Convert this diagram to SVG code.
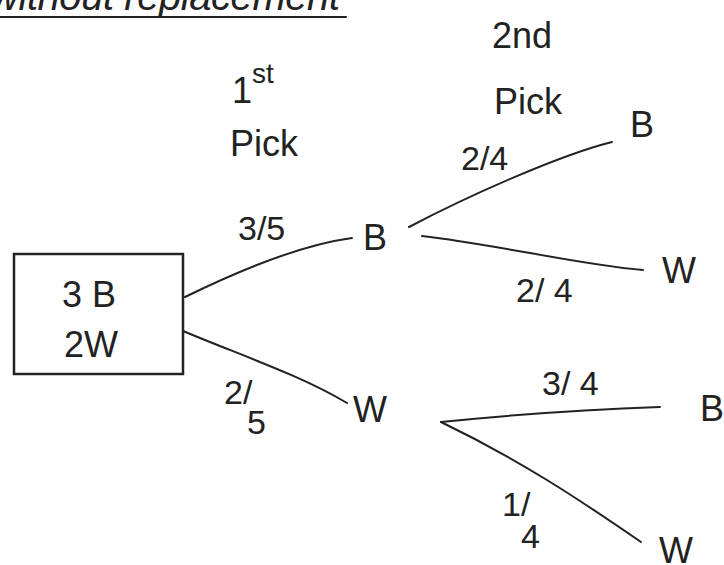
<svg xmlns="http://www.w3.org/2000/svg" width="724" height="565" viewBox="0 0 724 565">
<style>
  .t { font-family: "Liberation Sans", Arial, sans-serif; fill: #222; font-weight: normal; }
  .mid { font-size: 36px; }
  .frac { font-size: 34px; }
  .edge { fill: none; stroke: #222; stroke-width: 2; stroke-linecap: round; }
  .box { fill: #fff; stroke: #222; stroke-width: 2.5; }
</style>
<rect width="724" height="565" fill="#fff"/>
<g id="title">
  <text class="t" x="-10" y="10" font-size="40" font-style="italic" textLength="350">without replacement</text>
  <line x1="0" y1="17" x2="346" y2="17" class="edge" stroke-width="1.8"/>
</g>
<g id="header-1st">
  <text class="t mid" x="232" y="103">1<tspan font-size="28" dy="-20">st</tspan></text>
  <text class="t mid" x="230" y="156">Pick</text>
</g>
<g id="header-2nd">
  <text class="t mid" x="492" y="48">2nd</text>
  <text class="t mid" x="494" y="114">Pick</text>
</g>
<g id="connectors">
  <path class="edge" d="M185,297 C240,270 300,245 352,238"/>
  <path class="edge" d="M183,331 C240,355 300,375 347,403"/>
  <path class="edge" d="M409,227 C470,195 560,155 612,142"/>
  <path class="edge" d="M422,236 C500,245 580,265 643,270"/>
  <path class="edge" d="M441,422 C520,414 600,409 660,407"/>
  <path class="edge" d="M441,422 C520,460 580,500 641,542"/>
</g>
<g id="edge-labels">
  <text class="t frac" x="238" y="240">3/5</text>
  <text class="t frac" x="224" y="404">2/</text>
  <text class="t frac" x="247" y="434">5</text>
  <text class="t frac" x="461" y="170">2/4</text>
  <text class="t frac" x="516" y="302">2/ 4</text>
  <text class="t frac" x="542" y="395">3/ 4</text>
  <text class="t frac" x="502" y="516">1/</text>
  <text class="t frac" x="521" y="548">4</text>
</g>
<g id="root">
  <rect class="box" x="14" y="254" width="169" height="120"/>
  <text class="t mid" x="62" y="307">3 B</text>
  <text class="t mid" x="64" y="357">2W</text>
</g>
<g id="node-B1"><text class="t mid" x="363" y="250">B</text></g>
<g id="node-W1"><text class="t mid" x="353" y="422">W</text></g>
<g id="node-BB"><text class="t mid" x="630" y="137">B</text></g>
<g id="node-BW"><text class="t mid" x="662" y="283">W</text></g>
<g id="node-WB"><text class="t mid" x="700" y="421">B</text></g>
<g id="node-WW"><text class="t mid" x="659" y="563">W</text></g>
</svg>
